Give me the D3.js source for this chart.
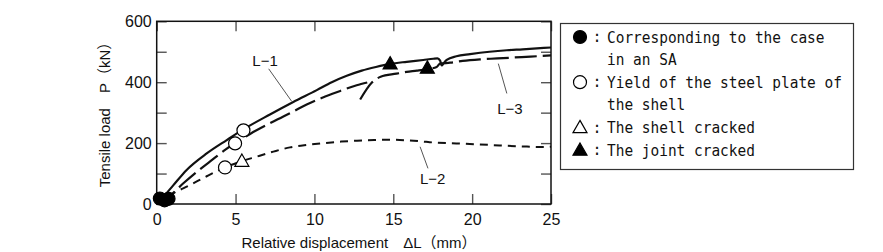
<!DOCTYPE html>
<html>
<head>
<meta charset="utf-8">
<script src="https://cdn.jsdelivr.net/npm/d3@7"></script>
<style>
  body { margin: 0; background: #fff; }
  svg { display: block; }
</style>
</head>
<body>
<div id="chart"></div>
<script>
//Data
const X_TICKS = [0, 5, 10, 15, 20, 25];
const Y_TICKS = [0, 100, 200, 300, 400, 500, 600];
const Y_LABELS = [0, 200, 400, 600];

//L-1 (solid)
const L1_X = [0, 0.5, 1.06, 1.9, 3.17, 4.44, 5.49, 7.18, 8.66, 10.15, 11.1, 12.05, 13.0, 13.9, 14.8, 15.85, 16.9, 17.54, 17.8, 17.97, 18.07, 18.2, 18.39, 19.0, 19.87, 21.1, 22.2, 23.2, 24.1, 25];
const L1_Y = [0, 28, 62, 112, 166, 210, 245, 294, 335, 374, 400, 421, 438, 450, 460, 467, 473, 477, 478, 471, 455, 463, 473, 485, 492, 500, 505, 508, 511, 514];

//L-2 (short dash)
const L2_X = [0, 0.6, 1.06, 2.1, 3.2, 4.2, 5.3, 6.3, 7.4, 8.45, 9.5, 10.6, 11.7, 12.7, 13.8, 14.8, 15.9, 16.9, 17.3, 19.0, 21.1, 23.2, 24.5, 25];
const L2_Y = [0, 20, 35, 62, 92, 117, 139, 155, 172, 186, 194, 200, 205, 208, 210, 211, 209, 205, 203, 199, 194, 189, 187, 188];

//L-3 (long dash), NaN breaks the line at the unloading
const L3_X = [0, 0.8, 1.69, 2.6, 3.49, 4.4, 5.28, 5.92, 7.4, 8.66, 9.51, 10.5, 11.41, 12.68, 13.35, NaN, 12.9, 13.63, 14.2, 15.2, 15.85, 16.5, 17.16, 17.75, 17.96, 18.6, 19.4, 20.5, 21.6, 22.6, 23.7, 25];
const L3_Y = [0, 25, 68, 108, 144, 180, 210, 230, 271, 304, 327, 349, 367, 390, 399, NaN, 343, 398, 418, 428, 434, 438, 443, 450, 461, 464, 470, 475, 478, 481, 484, 488];

//Markers
const SA_X = [0.2, 0.5, 0.75];
const SA_Y = [18, 12, 17];
const YIELD_X = [5.5, 4.97, 4.33];
const YIELD_Y = [242, 199, 120];
const SHELL_X = [5.4];
const SHELL_Y = [141];
const JOINT_X = [14.8, 17.16];
const JOINT_Y = [461, 447];

//Curve labels and their leader lines
const LABEL_NAMES = ['L\u22121', 'L\u22123', 'L\u22122'];
const LABEL_X = [6.87, 22.4, 17.5];
const LABEL_Y = [472, 314, 84];
const LEADER_X0 = [7.1, 21.66, 16.7];
const LEADER_Y0 = [444, 461, 188];
const LEADER_X1 = [8.56, 22.2, 17.2];
const LEADER_Y1 = [337, 363, 117];

//Legend
const LEGEND_SYMBOLS = ['filled-circle', null, 'open-circle', null, 'open-triangle', 'filled-triangle'];
const LEGEND_TEXTS = ['Corresponding to the case', 'in an SA', 'Yield of the steel plate of', 'the shell', 'The shell cracked', 'The joint cracked'];

let width = 883, height = 252;

let svg = d3.select('#chart')
    .append('svg')
        .attr('width', width)
        .attr('height', height);

let x = d3.scaleLinear()
    .domain([0, 25])
    .range([156.7, 551]);

let y = d3.scaleLinear()
    .domain([0, 600])
    .range([204, 21.3]);

const sans = 'Liberation Sans, Arial, Noto Sans CJK JP, sans-serif';

//Axes with inward ticks
function styleAxis(g) {
    g.select('.domain').remove();
    g.selectAll('.tick line').attr('stroke', '#555').attr('stroke-width', 1.4);
    g.selectAll('text').attr('font-family', sans).attr('font-size', 16).attr('fill', '#111');
}

svg.append('g')
    .attr('transform', 'translate(0,' + y(0) + ')')
    .call(d3.axisBottom(x).tickValues(X_TICKS).tickSize(-10).tickPadding(10))
    .call(styleAxis);

svg.append('g')
    .attr('transform', 'translate(0,' + y(600) + ')')
    .call(d3.axisTop(x).tickValues(X_TICKS).tickSize(-10).tickFormat(''))
    .call(styleAxis);

svg.append('g')
    .attr('transform', 'translate(' + x(0) + ',0)')
    .call(d3.axisLeft(y).tickValues(Y_TICKS).tickSize(-10).tickPadding(5)
        .tickFormat(function(d) { return Y_LABELS.indexOf(d) >= 0 ? d : ''; }))
    .call(styleAxis);

svg.append('g')
    .attr('transform', 'translate(' + x(25) + ',0)')
    .call(d3.axisRight(y).tickValues(Y_TICKS).tickSize(-10).tickFormat(''))
    .call(styleAxis);

//Frame
svg.append('rect')
    .attr('x', x(0))
    .attr('y', y(600))
    .attr('width', x(25) - x(0))
    .attr('height', y(0) - y(600))
    .attr('fill', 'none')
    .attr('stroke', '#111')
    .attr('stroke-width', 1.5);

//Axis titles
svg.append('text')
    .attr('transform', 'translate(110,111) rotate(-90)')
    .attr('text-anchor', 'middle')
    .attr('font-family', sans)
    .attr('font-size', 15)
    .attr('fill', '#111')
    .text('Tensile load\u3000P\uff08kN\uff09');

svg.append('text')
    .attr('x', 359)
    .attr('y', 248)
    .attr('text-anchor', 'middle')
    .attr('font-family', sans)
    .attr('font-size', 15)
    .attr('fill', '#111')
    .text('Relative displacement\u3000\u0394L\uff08mm\uff09');

//Curves
let line = d3.line()
    .defined(function(d) { return !isNaN(d[0]); })
    .x(function(d) { return x(d[0]); })
    .y(function(d) { return y(d[1]); })
    .curve(d3.curveMonotoneX);

function pairs(xs, ys) { return xs.map(function(v, i) { return [v, ys[i]]; }); }

svg.append('path')
    .datum(pairs(L2_X, L2_Y))
    .attr('d', line)
    .attr('fill', 'none')
    .attr('stroke', '#111')
    .attr('stroke-width', 2)
    .attr('stroke-dasharray', '8,6');

svg.append('path')
    .datum(pairs(L3_X, L3_Y))
    .attr('d', line)
    .attr('fill', 'none')
    .attr('stroke', '#111')
    .attr('stroke-width', 2.2)
    .attr('stroke-dasharray', '22,6');

svg.append('path')
    .datum(pairs(L1_X, L1_Y))
    .attr('d', line)
    .attr('fill', 'none')
    .attr('stroke', '#111')
    .attr('stroke-width', 2.2);

//Leader lines and curve labels
LABEL_NAMES.forEach(function(name, i) {
    svg.append('line')
        .attr('x1', x(LEADER_X0[i])).attr('y1', y(LEADER_Y0[i]))
        .attr('x2', x(LEADER_X1[i])).attr('y2', y(LEADER_Y1[i]))
        .attr('stroke', '#555')
        .attr('stroke-width', 1);
    svg.append('text')
        .attr('x', x(LABEL_X[i]))
        .attr('y', y(LABEL_Y[i]))
        .attr('dy', '0.35em')
        .attr('text-anchor', 'middle')
        .attr('font-family', sans)
        .attr('font-size', 15)
        .attr('fill', '#111')
        .text(name);
});

//Marker symbols
function drawSymbol(g, type, cx, cy) {
    if (type == 'filled-circle' || type == 'open-circle') {
        g.append('circle')
            .attr('cx', cx).attr('cy', cy).attr('r', 6.5)
            .attr('fill', type == 'filled-circle' ? '#000' : '#fff')
            .attr('stroke', '#000')
            .attr('stroke-width', 1.2);
    } else {
        let s = 7;
        g.append('path')
            .attr('d', 'M' + cx + ',' + (cy - s) + 'L' + (cx + s) + ',' + (cy + s * 0.75) + 'L' + (cx - s) + ',' + (cy + s * 0.75) + 'Z')
            .attr('fill', type == 'filled-triangle' ? '#000' : '#fff')
            .attr('stroke', '#000')
            .attr('stroke-width', 1.2);
    }
}

let marks = svg.append('g');
YIELD_X.forEach(function(v, i) { drawSymbol(marks, 'open-circle', x(v), y(YIELD_Y[i])); });
SHELL_X.forEach(function(v, i) { drawSymbol(marks, 'open-triangle', x(v), y(SHELL_Y[i])); });
JOINT_X.forEach(function(v, i) { drawSymbol(marks, 'filled-triangle', x(v), y(JOINT_Y[i])); });
SA_X.forEach(function(v, i) { drawSymbol(marks, 'filled-circle', x(v), y(SA_Y[i])); });

//Legend box
let legend = svg.append('g');
legend.append('rect')
    .attr('x', 560.5).attr('y', 23.5)
    .attr('width', 293).attr('height', 146)
    .attr('fill', '#fff')
    .attr('stroke', '#333')
    .attr('stroke-width', 1.2);

LEGEND_TEXTS.forEach(function(t, i) {
    let cy = 37 + i * 22.6;
    if (LEGEND_SYMBOLS[i]) {
        drawSymbol(legend, LEGEND_SYMBOLS[i], 580, cy);
        legend.append('text')
            .attr('x', 597).attr('y', cy).attr('dy', '0.35em')
            .attr('text-anchor', 'middle')
            .attr('font-family', 'DejaVu Sans Mono, monospace')
            .attr('font-size', 15)
            .attr('fill', '#111')
            .text(':');
    }
    legend.append('text')
        .attr('x', 607).attr('y', cy).attr('dy', '0.35em')
        .attr('font-family', 'DejaVu Sans Mono, monospace')
        .attr('font-size', 16)
        .attr('textLength', t.length * 8.7)
        .attr('lengthAdjust', 'spacingAndGlyphs')
        .attr('fill', '#111')
        .text(t);
});
</script>
</body>
</html>
